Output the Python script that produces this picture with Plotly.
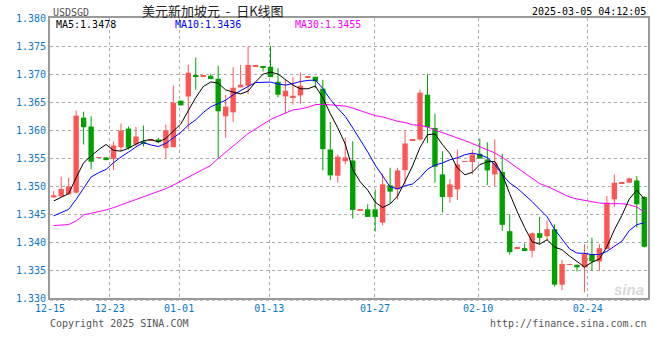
import plotly.graph_objects as go

# ---- data ----
opens = [1.34797, 1.34816, 1.34851, 1.34881, 1.36221, 1.36061, 1.35500, 1.35510, 1.35486, 1.35693,
         1.36025, 1.35741, 1.35794, 1.35810, 1.35830, 1.35675, 1.35693, 1.36524, 1.36600, 1.36962,
         1.36950, 1.36968, 1.36915, 1.36245, 1.36316, 1.36761, 1.36790, 1.37130, 1.37140, 1.37128,
         1.36862, 1.36600, 1.36589, 1.36618, 1.36940, 1.36951, 1.36737, 1.35652, 1.35184, 1.35444,
         1.35456, 1.34570, 1.34584, 1.34584, 1.34347, 1.35011, 1.34940, 1.35284, 1.35820, 1.35830,
         1.36630, 1.36037, 1.35207, 1.34804, 1.34940, 1.35430, 1.35426, 1.35575, 1.35474, 1.35207,
         1.35249, 1.34193, 1.33880, 1.33890, 1.33843, 1.34157, 1.34104, 1.34229, 1.33238, 1.33590,
         1.33594, 1.33547, 1.33772, 1.33653, 1.33873, 1.34762, 1.35050, 1.35059, 1.35100, 1.34804]
highs = [1.34909, 1.35166, 1.35148, 1.36346, 1.36328, 1.36245, 1.35510, 1.35510, 1.35794, 1.36114,
         1.36061, 1.36055, 1.36079, 1.35830, 1.35860, 1.36096, 1.36796, 1.36524, 1.37164, 1.37294,
         1.36970, 1.37004, 1.37146, 1.36630, 1.37122, 1.37164, 1.37490, 1.37140, 1.37140, 1.37502,
         1.37105, 1.36897, 1.36945, 1.37027, 1.36950, 1.36951, 1.36897, 1.36144, 1.35563, 1.35859,
         1.35800, 1.34580, 1.34673, 1.34940, 1.35219, 1.35326, 1.35326, 1.35990, 1.35830, 1.36719,
         1.36998, 1.36292, 1.35622, 1.35120, 1.35652, 1.35440, 1.35652, 1.35847, 1.35782, 1.35830,
         1.35575, 1.34496, 1.33890, 1.33974, 1.34170, 1.34448, 1.34389, 1.34318, 1.33677, 1.33600,
         1.33594, 1.33962, 1.34080, 1.33962, 1.34822, 1.35207, 1.35060, 1.35148, 1.35178, 1.34820]
lows = [1.34790, 1.34800, 1.34851, 1.34870, 1.35741, 1.35302, 1.35500, 1.35462, 1.35284, 1.35622,
        1.35652, 1.35711, 1.35705, 1.35810, 1.35770, 1.35492, 1.35693, 1.36440, 1.36008, 1.36719,
        1.36950, 1.36909, 1.35492, 1.35859, 1.36144, 1.36761, 1.36642, 1.37130, 1.37045, 1.36944,
        1.36583, 1.36286, 1.36452, 1.36470, 1.36940, 1.36749, 1.35278, 1.35107, 1.35059, 1.35385,
        1.34418, 1.34570, 1.34448, 1.34187, 1.34300, 1.34685, 1.34762, 1.35029, 1.35820, 1.35810,
        1.35770, 1.35059, 1.34525, 1.34703, 1.34750, 1.35430, 1.35207, 1.35492, 1.35017, 1.35000,
        1.34199, 1.33772, 1.33880, 1.33855, 1.33725, 1.33962, 1.34021, 1.33203, 1.33143, 1.33590,
        1.33475, 1.33102, 1.33487, 1.33487, 1.33873, 1.34626, 1.35050, 1.35059, 1.34258, 1.33900]
closes = [1.34833, 1.34946, 1.34994, 1.36257, 1.36049, 1.35433, 1.35510, 1.35462, 1.35723, 1.35990,
          1.35681, 1.35883, 1.35759, 1.35830, 1.35782, 1.35996, 1.36488, 1.36440, 1.37022, 1.36950,
          1.36970, 1.36909, 1.36334, 1.36417, 1.36755, 1.36808, 1.37164, 1.37140, 1.37116, 1.36944,
          1.36630, 1.36701, 1.36612, 1.36790, 1.36950, 1.36868, 1.35658, 1.35190, 1.35522, 1.35510,
          1.34573, 1.34580, 1.34448, 1.34448, 1.35029, 1.34899, 1.35278, 1.35759, 1.35830, 1.36666,
          1.36049, 1.35343, 1.34804, 1.35029, 1.35385, 1.35440, 1.35563, 1.35492, 1.35278, 1.35415,
          1.34306, 1.33819, 1.33890, 1.33855, 1.34157, 1.34074, 1.34229, 1.33238, 1.33606, 1.33600,
          1.33547, 1.33784, 1.33653, 1.33890, 1.34703, 1.35059, 1.35060, 1.35136, 1.34673, 1.33915]

# moving-average values before enough candles are on screen
ma5_head = [1.34733, 1.34804, 1.34863, 1.35150]
ma10_head = [1.34466, 1.34519, 1.34584, 1.34762, 1.34970, 1.35160, 1.35237, 1.35296, 1.35415]
ma30_head = [1.34294, 1.34300, 1.34312, 1.34377, 1.34484, 1.34513, 1.34537, 1.34572, 1.34614, 1.34661,
             1.34703, 1.34750, 1.34798, 1.34845, 1.34899, 1.34952, 1.35017, 1.35088, 1.35148, 1.35219,
             1.35290, 1.35367, 1.35492, 1.35598, 1.35705, 1.35824, 1.35936, 1.36020, 1.36108]

tick_labels = ["12-15", "12-23", "01-01", "01-13", "01-27", "02-10", "02-24"]
tick_pos = [-0.5, 7.5, 16.77, 28.83, 42.97, 56.77, 71.43]

y_ticks = [1.330, 1.335, 1.340, 1.345, 1.350, 1.355, 1.360, 1.365, 1.370, 1.375, 1.380]

ma_labels = ["MA5:1.3478", "MA10:1.3436", "MA30:1.3455"]
title_text = "美元新加坡元\u00a0\u00a0-\u00a0\u00a0日K线图"
symbol = "USDSGD"
stamp = "2025-03-05 04:12:05"


def moving_avg(vals, n, head):
    out = list(head)
    for i in range(len(head), len(vals)):
        out.append(sum(vals[i - n + 1:i + 1]) / n)
    return out


x = list(range(len(closes)))
ma5 = moving_avg(closes, 5, ma5_head)
ma10 = moving_avg(closes, 10, ma10_head)
ma30 = moving_avg(closes, 30, ma30_head)

RED = "#FF5555"
GREEN = "#00A000"
LBL = "#0B78C8"
MONO = "DejaVu Sans Mono"
MIN_BODY = 0.00016

fig = go.Figure()

for is_up, col in [(True, RED), (False, GREEN)]:
    idx = [i for i in x if (closes[i] > opens[i]) == is_up]
    wx, wy = [], []
    for i in idx:
        wx += [i, i, None]
        wy += [lows[i], highs[i], None]
    fig.add_trace(go.Scatter(x=wx, y=wy, mode="lines", line=dict(color=col, width=1),
                             hoverinfo="skip", showlegend=False))
    bases = [min(opens[i], closes[i]) for i in idx]
    heights = [max(abs(closes[i] - opens[i]), MIN_BODY) for i in idx]
    fig.add_trace(go.Bar(x=idx, y=heights, base=bases, width=0.72,
                         marker=dict(color=col, line=dict(width=0)),
                         hoverinfo="skip", showlegend=False))

for vals, col in [(ma30, "#FF00FF"), (ma10, "#0000FF"), (ma5, "#000000")]:
    fig.add_trace(go.Scatter(x=x, y=vals, mode="lines", line=dict(color=col, width=1),
                             hoverinfo="skip", showlegend=False))

fig.update_layout(
    width=660, height=360,
    margin=dict(l=50, r=10, t=18, b=62),
    paper_bgcolor="white", plot_bgcolor="white",
    barmode="overlay",
    font=dict(family=MONO, size=10, color=LBL),
    xaxis=dict(range=[-0.5, 79.5], tickmode="array", tickvals=tick_pos, ticktext=tick_labels,
               showgrid=True, gridcolor="#AAAAAA", griddash="dot", gridwidth=1,
               showline=True, linecolor="#999999", linewidth=2, mirror=True,
               ticks="", tickfont=dict(family=MONO, size=10, color=LBL),
               zeroline=False, fixedrange=True),
    yaxis=dict(range=[1.330, 1.380], tickmode="array", tickvals=y_ticks,
               ticktext=[f"{v:.3f}" for v in y_ticks],
               showgrid=True, gridcolor="#AAAAAA", griddash="dot", gridwidth=1,
               showline=True, linecolor="#999999", linewidth=2, mirror=True,
               ticks="", tickfont=dict(family=MONO, size=10, color=LBL),
               zeroline=False, fixedrange=True),
)

# dotted line under the plot frame
fig.add_shape(type="line", xref="paper", yref="paper", x0=0, x1=1, y0=-0.008, y1=-0.008,
              line=dict(color="#AAAAAA", width=1, dash="dot"))


def px(xp):
    return (xp - 50) / 600.0


def py(yp):
    return (298 - yp) / 280.0


ann = [
    dict(text=symbol, x=px(51), y=py(12), xanchor="left",
         font=dict(family=MONO, size=10, color="#555555")),
    dict(text=title_text, x=px(214), y=py(10), xanchor="center",
         font=dict(family="Noto Sans CJK SC", size=13, color="#222222")),
    dict(text=stamp, x=px(650), y=py(11), xanchor="right",
         font=dict(family=MONO, size=10, color="#000000")),
    dict(text=ma_labels[0], x=px(54), y=py(24), xanchor="left",
         font=dict(family=MONO, size=10, color="#000000")),
    dict(text=ma_labels[1], x=px(173), y=py(24), xanchor="left",
         font=dict(family=MONO, size=10, color="#0000FF")),
    dict(text=ma_labels[2], x=px(294), y=py(24), xanchor="left",
         font=dict(family=MONO, size=10, color="#FF00FF")),
    dict(text="Copyright 2025 SINA.COM", x=px(48), y=py(323), xanchor="left",
         font=dict(family=MONO, size=10, color="#555555")),
    dict(text="http://finance.sina.com.cn", x=px(651), y=py(323), xanchor="right",
         font=dict(family=MONO, size=10, color="#555555")),
    dict(text="<b><i>sina</i></b>", x=px(648), y=py(289), xanchor="right",
         font=dict(family="Liberation Sans", size=15, color="#D8D8D8")),
]
for a in ann:
    fig.add_annotation(xref="paper", yref="paper", yanchor="middle", showarrow=False, **a)

fig.write_html("out.html", config={"displayModeBar": False},
               post_script="document.body.style.margin='0';")
